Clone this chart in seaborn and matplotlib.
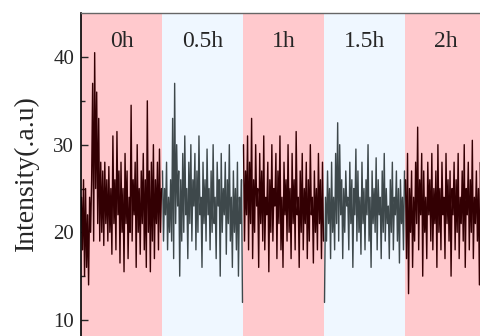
import numpy as np
import pandas as pd
import matplotlib
matplotlib.use("Agg")
import matplotlib.pyplot as plt
import matplotlib.transforms as mtransforms
import seaborn as sns

labels = ["0h", "0.5h", "1h", "1.5h", "2h"]

seg_0h = [24, 18, 26, 15, 25, 16, 22, 14, 24, 20,
          26, 37, 19, 40.5, 25, 36, 21, 33, 19, 28,
          20, 27, 18.5, 28, 21, 26, 19, 27.5, 20, 25,
          17.5, 31, 21, 26, 18, 31.5, 22, 27, 16.5, 28,
          20, 25, 15.5, 29, 21, 27, 17, 24, 20, 34.5,
          19, 26, 22, 28, 16, 30, 20, 25, 17.5, 27,
          21, 29, 18, 26, 16, 35, 20, 27, 15.5, 28,
          19, 30, 17, 26, 21, 28, 18, 29.5, 20, 25]
seg_05h = [27, 19, 25, 22, 28, 18, 24, 20, 26, 19,
           33, 17, 37, 21, 30, 23, 27, 15, 26, 19,
           29, 20, 31, 22, 25, 17, 28, 21, 30, 19,
           26, 23, 29, 18, 27, 20, 31, 22, 24, 16,
           28, 21, 26, 19, 29.5, 22, 25, 18, 27, 20,
           30, 21, 24, 17, 28, 23, 26, 15, 29, 20,
           25, 22, 28, 17.5, 26, 21, 30, 19, 24, 16,
           27, 20, 25, 18, 28, 15, 24, 21, 26, 12]
seg_1h = [30, 19, 27, 22, 31, 18, 28, 21, 33, 17,
          26, 20, 30, 23, 25, 16, 29, 21, 27, 19,
          31, 18, 24, 22, 28, 15.5, 26, 20, 30, 19,
          25, 23, 29, 17, 27, 21, 31, 18, 24, 16,
          28, 22, 26, 19, 30, 20, 25, 17, 29, 21,
          26, 18, 31.5, 22, 24, 16, 27, 20, 29, 18,
          25, 21, 28, 17, 26, 19, 30, 22, 24, 16.5,
          27, 20, 25, 18, 29, 21, 26, 17, 28, 19]
seg_15h = [12, 24, 19, 27, 21, 25, 17, 28, 20, 24,
           18, 29, 21, 32.5, 19, 30, 22, 26, 17, 25,
           20, 27, 23, 24, 18, 28, 21, 26, 16, 25,
           22, 29.5, 19, 27, 20, 24, 17.5, 28, 21, 25,
           18, 26, 22, 30, 19, 24, 16, 27, 21, 25,
           20, 28.5, 18, 26, 22, 24, 17, 27, 20, 29,
           19, 25, 21, 23, 17, 26, 20, 28, 18, 24,
           22, 27, 19, 25, 16.5, 26, 21, 24, 18, 27]
seg_2h = [26, 17, 29, 13, 25, 20, 27, 16, 24, 19,
          28, 21, 32, 18, 26, 22, 29, 15, 27, 20,
          24, 17, 28, 22, 26, 19, 29, 18, 25, 21,
          27, 16, 30, 20, 25, 18, 28, 22, 24, 17,
          29, 21, 26, 19, 27, 15, 25, 22, 28, 18,
          26, 20, 29, 17, 24, 21, 27, 19, 30, 16,
          25, 22, 28, 18, 26, 20, 30.5, 17, 24, 21,
          27, 19, 25, 14, 28, 20, 26, 18, 29, 21]

segments = [seg_0h, seg_05h, seg_1h, seg_15h, seg_2h]
bg_colors = ["#FFC9CD", "#EFF7FF", "#FFC9CD", "#EFF7FF", "#FFC9CD"]
line_colors = ["#330003", "#3E484B", "#330003", "#3E484B", "#330003"]

rows = []
for k, (lab, seg) in enumerate(zip(labels, segments)):
    n = len(seg)
    for i, v in enumerate(seg):
        rows.append({"t": k + (i + 0.5) / n, "value": v, "seg": lab})
df = pd.DataFrame(rows)

sns.set_style("ticks")
plt.rcParams["font.family"] = ["Liberation Serif", "DejaVu Serif"]

W, H = 481, 336
fig = plt.figure(figsize=(W / 100, H / 100), dpi=100)
top_px, bottom_px = 13.2, 363.8
left_px, right_px = 81, 486
ax = fig.add_axes([left_px / W, 1 - bottom_px / H,
                   (right_px - left_px) / W, (bottom_px - top_px) / H])

for k in range(len(labels)):
    ax.axvspan(k, k + 1, color=bg_colors[k], lw=0, zorder=0)

sns.lineplot(data=df, x="t", y="value", hue="seg", palette=line_colors,
             estimator=None, sort=False, legend=False, lw=1.0, ax=ax, zorder=2)

ax.set_xlim(0, 5)
ax.set_ylim(5, 45)
ax.set_yticks([10, 20, 30, 40])
ax.set_yticks([15, 25, 35], minor=True)
ax.set_xticks([])
ax.tick_params(axis="y", which="major", direction="in", length=5, width=1,
               labelsize=15, pad=5)
ax.tick_params(axis="y", which="minor", direction="in", length=3, width=1)
ax.set_xlabel("")
ax.set_ylabel("Intensity(.a.u)", fontsize=20)
ax.yaxis.set_label_coords(-0.104, 0.544)

ax.spines["left"].set_color("black")
ax.spines["left"].set_linewidth(1.2)
ax.spines["top"].set_color("#666666")
ax.spines["top"].set_linewidth(1.0)
ax.spines["right"].set_visible(False)

trans = mtransforms.blended_transform_factory(ax.transData, ax.transAxes)
for k, lab in enumerate(labels):
    ax.text(k + 0.5, 0.918, lab, transform=trans, ha="center", va="center",
            fontsize=17, zorder=3)

fig.savefig("out.png", dpi=100)
